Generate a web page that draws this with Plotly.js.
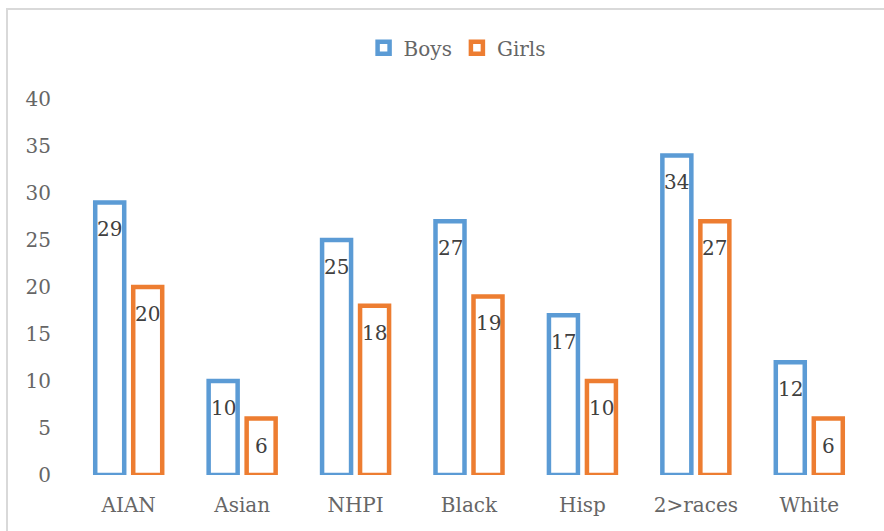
<!DOCTYPE html>
<html>
<head>
<meta charset="utf-8">
<script src="https://cdn.plot.ly/plotly-3.0.1.min.js"></script>
<style>
  html, body { margin: 0; padding: 0; background: #ffffff; }
  #wrap { position: relative; width: 884px; height: 531px; overflow: hidden; }
  #frame { position: absolute; left: 6px; top: 8px; width: 900px; height: 560px; border: 2px solid #d9d9d9; box-sizing: border-box; pointer-events: none; }
  #chart { position: absolute; left: 0; top: 0; width: 884px; height: 531px; }
</style>
</head>
<body>
<div id="wrap">
  <div id="chart"></div>
  <div id="frame"></div>
</div>
<script>
const categories = ["AIAN", "Asian", "NHPI", "Black", "Hisp", "2>races", "White"];
const boys = [29, 10, 25, 27, 17, 34, 12];
const girls = [20, 6, 18, 19, 10, 27, 6];
const seriesNames = ["Boys", "Girls"];
const seriesColors = ["#5B9BD5", "#ED7D31"];
const yTicks = [0, 5, 10, 15, 20, 25, 30, 35, 40];

const fontFam = "'DejaVu Serif', serif";
const tickColor = "#666666";
const labelColor = "#404040";

function barTrace(name, values, color) {
  return {
    type: "bar",
    name: name,
    x: categories,
    y: values,
    marker: { color: "#ffffff", line: { color: color, width: 4.5 } },
    cliponaxis: false,
    hoverinfo: "skip"
  };
}

const data = [
  barTrace(seriesNames[0], boys, seriesColors[0]),
  barTrace(seriesNames[1], girls, seriesColors[1])
];

// data labels placed through the axis scales, just below each bar's top
const annotations = [];
[boys, girls].forEach(function (vals, si) {
  vals.forEach(function (v, i) {
    annotations.push({
      x: categories[i],
      y: v,
      xref: "x",
      yref: "y",
      text: String(v),
      showarrow: false,
      xshift: si === 0 ? -19 : 19,
      yshift: -27,
      xanchor: "center",
      yanchor: "middle",
      font: { family: fontFam, size: 20, color: labelColor }
    });
  });
});

const layout = {
  width: 884,
  height: 531,
  paper_bgcolor: "#ffffff",
  plot_bgcolor: "#ffffff",
  margin: { l: 72, r: 18, t: 99, b: 56 },
  barmode: "group",
  bargap: 0.33,
  bargroupgap: 0.237,
  font: { family: fontFam, size: 20, color: tickColor },
  showlegend: true,
  legend: {
    orientation: "h",
    x: 0.485, xanchor: "center",
    y: 1.136, yanchor: "middle",
    font: { family: fontFam, size: 20, color: tickColor },
    itemwidth: 30,
    traceorder: "normal"
  },
  annotations: annotations,
  xaxis: {
    type: "category",
    showgrid: false,
    showline: false,
    zeroline: false,
    ticks: "",
    ticklabelstandoff: 16,
    tickfont: { family: fontFam, size: 20, color: tickColor }
  },
  yaxis: {
    range: [0, 40],
    tickvals: yTicks,
    ticktext: yTicks.map(String),
    showgrid: false,
    showline: false,
    zeroline: false,
    ticks: "",
    ticklabelstandoff: 20,
    tickfont: { family: fontFam, size: 20, color: tickColor }
  }
};

Plotly.newPlot("chart", data, layout, { displayModeBar: false, staticPlot: true });
</script>
</body>
</html>
